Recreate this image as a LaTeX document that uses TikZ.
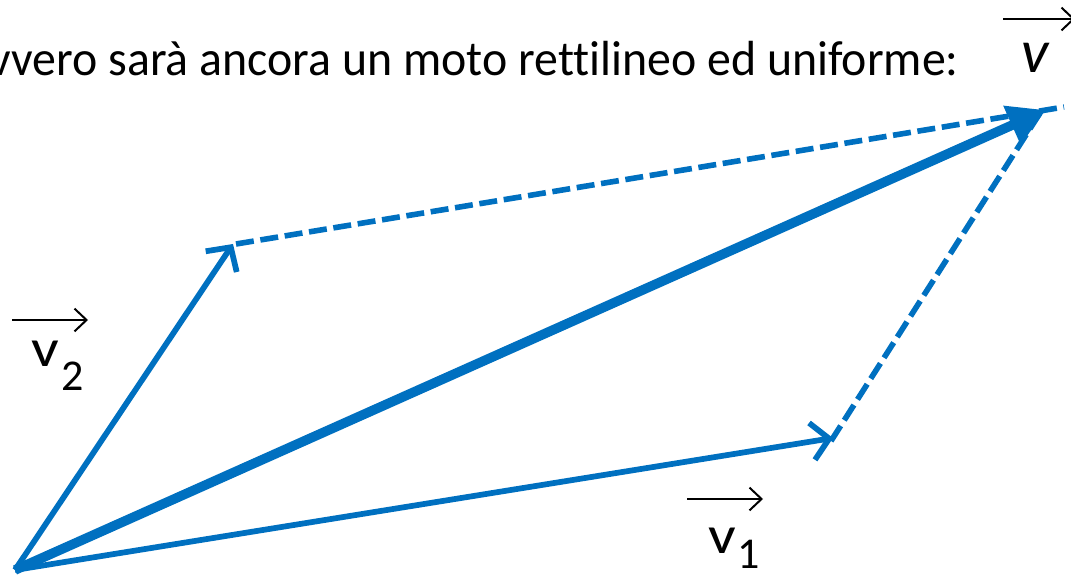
\documentclass[tikz,border=0pt]{standalone}
\usepackage{fontspec}
\setmainfont{Carlito}[Ligatures={NoCommon,NoRequired,NoContextual}]
\usetikzlibrary{arrows.meta}
\definecolor{pblue}{HTML}{0070C0}
\tikzset{
  vec/.style={draw=pblue, line width=4.3pt, -{Straight Barb[length=13pt,width=28pt,line width=4.3pt]}},
  sumvec/.style={draw=pblue, line width=7.2pt, -{Triangle[length=28pt,width=30pt]}},
  dashvec/.style={draw=pblue, line width=4.2pt, dash pattern=on 13.5pt off 5pt},
  overarrow/.style={draw=black, line width=1.5pt, -{Straight Barb[length=9pt,width=17pt,line width=1.5pt]}},
  lab/.style={inner sep=0pt, font=\fontsize{40}{48}\selectfont},
}
\begin{document}
\begin{tikzpicture}[x=0.75pt,y=-0.75pt]
\useasboundingbox (0,0) rectangle (1071,577);
\begin{scope}
\clip (0,0) rectangle (1071,577);
\node[anchor=base east, inner sep=0pt, font=\fontsize{37}{44}\selectfont] (txt) at (959,76) {\scalebox{0.97}[1]{ovvero sarà ancora un moto rettilineo ed uniforme:}};
\coordinate (O) at (15,570);
\coordinate (A) at (233,244);
\coordinate (B) at (833,438);
\coordinate (S) at (1046,110);
\coordinate (E) at (1064,107);
\coordinate (Ea) at (236,244);
\coordinate (Bb) at (831,441);
\coordinate (Bt) at (1040,113);
\draw[dashvec] (Ea) -- (E);
\draw[dashvec] (Bb) -- (Bt);
\draw[vec] (O) -- (A);
\draw[vec] (O) -- (B);
\draw[sumvec] (O) -- (S);
% labels
\node[lab, anchor=base west, font=\fontsize{46}{52}\selectfont\itshape] (vl) at (1021,73) {v};
\draw[overarrow] (1003,19) -- (1075,19);
\node[lab, anchor=base west] (v2) at (31,366) {\scalebox{1.15}[1]{v}};
\node[lab, anchor=base west, font=\fontsize{33}{36}\selectfont] (s2) at (61,390) {2};
\draw[overarrow] (12,320) -- (88,320);
\node[lab, anchor=base west] (v1) at (708,553) {\scalebox{1.15}[1]{v}};
\node[lab, anchor=base west, font=\fontsize{33}{36}\selectfont] (s1) at (737,568) {1};
\draw[overarrow] (687,499) -- (763,499);
\end{scope}
\end{tikzpicture}
\end{document}
